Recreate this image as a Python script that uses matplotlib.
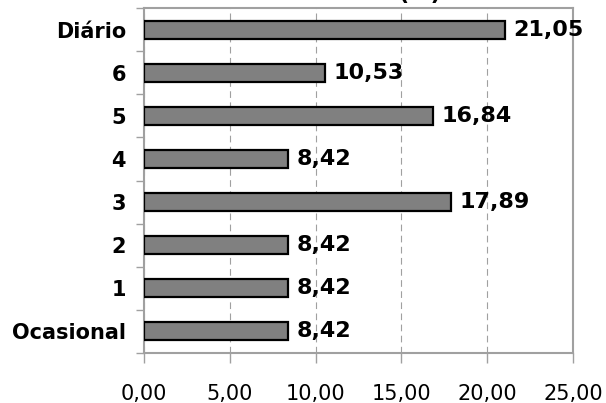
import matplotlib.pyplot as plt
import numpy as np

categories = ['Ocasional', '1', '2', '3', '4', '5', '6', 'Diário']
values = [8.42, 8.42, 8.42, 17.89, 8.42, 16.84, 10.53, 21.05]
xticks = [0, 5, 10, 15, 20, 25]

plt.rcParams['font.family'] = ['DejaVu Sans']

fig = plt.figure(figsize=(6.06, 4.03), dpi=100)
ax = fig.add_axes([144 / 606, 1 - 353 / 403, (573 - 144) / 606, (353 - 8) / 403])

y = np.arange(len(categories))
ax.barh(y, values, height=0.42, color='#808080', edgecolor='black', linewidth=1.6, zorder=3)

for yi, v in zip(y, values):
    ax.annotate(f"{v:.2f}".replace('.', ','), (v, yi), xytext=(6, 0), textcoords='offset points',
                ha='left', va='center', fontsize=16, fontweight='bold', zorder=4)

ax.set_xlim(0, 25)
ax.set_ylim(-0.5, len(categories) - 0.5)
ax.set_xticks(xticks)
ax.set_xticklabels([f"{t:.2f}".replace('.', ',') for t in xticks], fontsize=15)
ax.set_yticks(y)
ax.set_yticklabels(categories, fontsize=15, fontweight='bold')
ax.tick_params(axis='y', length=0, pad=13)
ax.set_yticks(np.arange(-0.5, len(categories)), minor=True)
ax.tick_params(axis='y', which='minor', length=6, color='#a0a0a0', width=1)
ax.tick_params(axis='x', length=7, color='#a0a0a0', width=1, pad=15)

ax.grid(axis='x', linestyle=(0, (6, 4)), color='#a0a0a0', linewidth=0.8, zorder=0)
for s in ax.spines.values():
    s.set_color('#a0a0a0')
    s.set_linewidth(1.5)

# title sits above the top edge, only its lower part is visible
fig.text(0.693, 1 - 4 / 403, '(%)', ha='center', va='bottom', fontsize=16, fontweight='bold')

plt.savefig('out.png', dpi=100)
